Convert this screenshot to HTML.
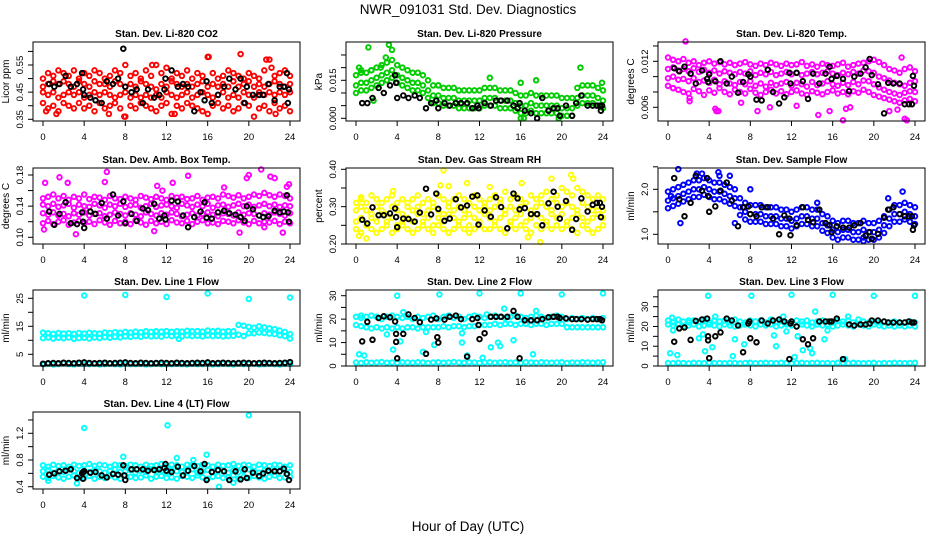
<!DOCTYPE html>
<html><head><meta charset="utf-8"><style>
html,body{margin:0;padding:0;background:#fff;}
svg{display:block;font-family:"Liberation Sans",sans-serif;}
</style></head><body>
<svg id="chart" width="936" height="540" viewBox="0 0 936 540" xmlns="http://www.w3.org/2000/svg">
<text x="468" y="14" font-size="13.5" text-anchor="middle">NWR_091031  Std. Dev. Diagnostics</text>
<text x="468" y="531" font-size="13.5" text-anchor="middle">Hour of Day (UTC)</text>
</svg>
<script>
const hours=[0,0.5,1,1.5,2,2.5,3,3.5,4,4.5,5,5.5,6,6.5,7,7.5,8,8.5,9,9.5,10,10.5,11,11.5,12,12.5,13,13.5,14,14.5,15,15.5,16,16.5,17,17.5,18,18.5,19,19.5,20,20.5,21,21.5,22,22.5,23,23.5,24];
const xTicks=[0,4,8,12,16,20,24];
const blackHoursA=[0.6,1.1,1.6,2.2,2.7,3.3,3.8,3.9,4.0,4.6,5.1,5.7,6.2,6.8,7.3,7.8,8.0,8.6,9.1,9.7,10.2,10.8,11.3,11.8,11.9,12.5,13.1,13.6,14.1,14.7,15.3,15.7,15.9,16.4,17.0,17.6,18.1,18.7,19.2,19.6,19.8,20.4,21.0,21.4,21.9,22.5,23.0,23.4,23.7,23.8,23.9];
const blackHoursB=[0.6,1.1,1.6,2.2,2.7,3.3,3.8,3.9,3.9,4.0,4.6,5.1,5.7,6.2,6.8,7.3,7.8,7.9,8.0,8.6,9.1,9.7,10.2,10.8,11.3,11.8,11.9,12.0,12.5,13.1,13.6,14.1,14.7,15.3,15.7,15.9,16.4,17.0,17.6,18.1,18.7,19.2,19.6,19.8,20.4,21.0,21.4,21.9,22.5,23.0,23.4,23.7,23.9];

const co2Band1=[0.50,0.52,0.51,0.53,0.52,0.51,0.53,0.50,0.52,0.51,0.53,0.52,0.50,0.51,0.53,0.52,0.55,0.51,0.52,0.50,0.53,0.51,0.55,0.52,0.54,0.50,0.52,0.51,0.53,0.50,0.52,0.51,0.58,0.52,0.50,0.51,0.53,0.52,0.51,0.50,0.52,0.51,0.50,0.53,0.57,0.51,0.52,0.53,0.51];
const co2Band2=[0.47,0.48,0.49,0.48,0.49,0.48,0.47,0.49,0.48,0.47,0.49,0.48,0.48,0.47,0.49,0.48,0.47,0.48,0.47,0.49,0.48,0.47,0.46,0.48,0.47,0.49,0.48,0.47,0.48,0.47,0.48,0.49,0.47,0.48,0.47,0.48,0.47,0.49,0.47,0.48,0.49,0.47,0.48,0.47,0.48,0.49,0.48,0.47,0.48];
const co2Band3=[0.45,0.44,0.45,0.43,0.44,0.45,0.44,0.45,0.43,0.44,0.45,0.44,0.45,0.44,0.43,0.44,0.45,0.43,0.44,0.43,0.44,0.43,0.44,0.43,0.45,0.44,0.43,0.44,0.45,0.43,0.44,0.45,0.44,0.43,0.44,0.45,0.43,0.44,0.43,0.45,0.44,0.43,0.45,0.44,0.45,0.44,0.45,0.44,0.45];
const co2Band4=[0.41,0.39,0.40,0.38,0.41,0.40,0.39,0.41,0.39,0.40,0.38,0.41,0.39,0.40,0.41,0.39,0.36,0.40,0.39,0.41,0.40,0.39,0.38,0.40,0.41,0.37,0.40,0.39,0.41,0.40,0.39,0.38,0.37,0.40,0.41,0.39,0.40,0.38,0.39,0.41,0.40,0.36,0.39,0.40,0.38,0.41,0.39,0.40,0.38];
const co2OutX=[0.3,1.3,6.4,7.9,10.6,12.8,16.1,19.2,21.7,22.2,22.6];
const co2OutY=[0.38,0.37,0.37,0.36,0.55,0.37,0.58,0.59,0.57,0.54,0.37];
const co2Black=[0.48,0.47,0.48,0.51,0.47,0.48,0.52,0.46,0.44,0.43,0.42,0.41,0.49,0.48,0.50,0.61,0.47,0.45,0.46,0.41,0.46,0.43,0.44,0.46,0.50,0.53,0.47,0.48,0.47,0.38,0.45,0.42,0.49,0.41,0.44,0.47,0.50,0.46,0.50,0.41,0.47,0.44,0.44,0.44,0.48,0.42,0.47,0.47,0.52,0.41,0.46];
const co2Ticks=[0.35,0.40,0.45,0.50,0.55,0.60];
const co2Labels=["0.35","","0.45","","0.55",""];

const presBand1=[0.017,0.018,0.018,0.019,0.020,0.021,0.022,0.023,0.021,0.020,0.019,0.018,0.018,0.017,0.015,0.013,0.013,0.012,0.012,0.012,0.011,0.011,0.011,0.011,0.011,0.012,0.012,0.012,0.011,0.011,0.011,0.010,0.009,0.009,0.010,0.009,0.009,0.009,0.009,0.009,0.008,0.008,0.008,0.012,0.013,0.013,0.013,0.012,0.011];
const presBand2=[0.013,0.014,0.014,0.015,0.016,0.017,0.018,0.019,0.017,0.016,0.015,0.014,0.014,0.013,0.011,0.009,0.009,0.008,0.008,0.008,0.007,0.007,0.007,0.007,0.007,0.008,0.008,0.008,0.007,0.007,0.007,0.006,0.005,0.005,0.006,0.005,0.005,0.005,0.005,0.005,0.004,0.004,0.004,0.008,0.009,0.009,0.009,0.008,0.007];
const presBand3=[0.010,0.011,0.011,0.012,0.013,0.014,0.015,0.016,0.014,0.013,0.012,0.011,0.011,0.010,0.008,0.006,0.006,0.005,0.005,0.005,0.004,0.004,0.004,0.004,0.004,0.005,0.005,0.005,0.004,0.004,0.004,0.003,0.002,0.002,0.003,0.002,0.002,0.002,0.002,0.002,0.001,0.001,0.001,0.005,0.006,0.006,0.006,0.005,0.004];
const presOutX=[0.5,1.2,1.5,2.4,3.2,3.5,1.7,8.0,13.0,16.0,17.5,21.8,23.9,16.0,16.3,19.7,0.3,2.9];
const presOutY=[0.019,0.028,0.019,0.020,0.029,0.027,0.007,0.013,0.016,0.014,0.015,0.020,0.014,0.000,0.000,0.000,0.020,0.024];
const presBlack=[0.006,0.006,0.008,0.012,0.010,0.013,0.017,0.014,0.008,0.009,0.008,0.009,0.008,0.004,0.006,0.007,0.004,0.006,0.005,0.006,0.006,0.006,0.004,0.005,0.004,0.006,0.005,0.007,0.007,0.007,0.005,0.004,0.006,0.003,0.002,0.000,0.008,0.003,0.004,0.004,0.001,0.005,0.001,0.006,0.009,0.005,0.005,0.005,0.005,0.003,0.005];
const presTicks=[0,0.005,0.010,0.015,0.020,0.025];
const presLabels=["0.000","","","0.015","",""];

const ltBand1=[0.0125,0.0122,0.0120,0.0123,0.0118,0.0120,0.0115,0.0118,0.0120,0.0117,0.0119,0.0116,0.0118,0.0115,0.0117,0.0119,0.0116,0.0114,0.0117,0.0115,0.0118,0.0116,0.0114,0.0117,0.0115,0.0116,0.0119,0.0114,0.0116,0.0113,0.0117,0.0115,0.0114,0.0116,0.0118,0.0113,0.0115,0.0117,0.0118,0.0120,0.0122,0.0119,0.0115,0.0110,0.0108,0.0105,0.0110,0.0112,0.0107];
const ltBand2=[0.0110,0.0112,0.0108,0.0110,0.0107,0.0111,0.0106,0.0109,0.0105,0.0108,0.0104,0.0107,0.0105,0.0103,0.0106,0.0104,0.0107,0.0102,0.0105,0.0103,0.0106,0.0102,0.0104,0.0106,0.0103,0.0105,0.0102,0.0104,0.0106,0.0103,0.0105,0.0107,0.0104,0.0102,0.0105,0.0103,0.0106,0.0104,0.0108,0.0107,0.0105,0.0100,0.0098,0.0095,0.0092,0.0090,0.0088,0.0092,0.0094];
const ltBand3=[0.0098,0.0100,0.0096,0.0097,0.0094,0.0098,0.0093,0.0095,0.0092,0.0096,0.0090,0.0094,0.0091,0.0089,0.0093,0.0090,0.0094,0.0088,0.0091,0.0087,0.0092,0.0089,0.0091,0.0093,0.0088,0.0092,0.0090,0.0087,0.0093,0.0089,0.0091,0.0094,0.0090,0.0088,0.0092,0.0089,0.0093,0.0090,0.0095,0.0094,0.0090,0.0086,0.0083,0.0080,0.0078,0.0076,0.0079,0.0081,0.0080];
const ltBand4=[0.0088,0.0085,0.0083,0.0080,0.0078,0.0084,0.0081,0.0076,0.0082,0.0079,0.0085,0.0080,0.0077,0.0083,0.0080,0.0078,0.0084,0.0079,0.0076,0.0080,0.0083,0.0078,0.0081,0.0077,0.0080,0.0082,0.0078,0.0076,0.0081,0.0079,0.0077,0.0080,0.0082,0.0078,0.0080,0.0077,0.0081,0.0079,0.0083,0.0080,0.0076,0.0074,0.0072,0.0070,0.0068,0.0066,0.0069,0.0071,0.0068];
const ltOutX=[0.5,1.7,2.1,2.1,4.6,4.7,4.9,7.1,8.7,9.9,12.5,14.6,15.7,17.0,17.3,17.7,22.7,23.0,23.2,21.5,22.3];
const ltOutY=[0.0085,0.0146,0.0072,0.0068,0.0058,0.0055,0.0055,0.0066,0.0055,0.0060,0.0062,0.0050,0.0055,0.0043,0.0058,0.0060,0.0125,0.0045,0.0043,0.0055,0.0057];
const ltBlack=[0.0111,0.0107,0.0113,0.0104,0.0091,0.0108,0.0097,0.0093,0.0103,0.0094,0.0120,0.0091,0.0100,0.0079,0.0093,0.0103,0.0100,0.0070,0.0069,0.0109,0.0080,0.0065,0.0073,0.0105,0.0091,0.0105,0.0094,0.0071,0.0104,0.0091,0.0104,0.0113,0.0097,0.0101,0.0097,0.0081,0.0100,0.0104,0.0112,0.0123,0.0102,0.0090,0.0052,0.0092,0.0091,0.0091,0.0064,0.0064,0.0064,0.0101,0.0088];
const ltTicks=[0.006,0.008,0.010,0.012,0.014];
const ltLabels=["0.006","","","0.012",""];

const abBand1=[0.150,0.152,0.155,0.150,0.153,0.148,0.152,0.150,0.155,0.149,0.152,0.151,0.148,0.153,0.150,0.149,0.152,0.150,0.148,0.153,0.151,0.149,0.152,0.150,0.148,0.153,0.151,0.152,0.149,0.150,0.153,0.148,0.151,0.152,0.150,0.155,0.153,0.151,0.154,0.150,0.152,0.155,0.153,0.157,0.154,0.152,0.155,0.153,0.150];
const abBand2=[0.142,0.140,0.143,0.139,0.141,0.143,0.138,0.142,0.140,0.139,0.143,0.141,0.138,0.142,0.140,0.143,0.139,0.141,0.142,0.138,0.140,0.143,0.139,0.141,0.142,0.140,0.138,0.143,0.141,0.139,0.142,0.140,0.143,0.138,0.141,0.142,0.139,0.141,0.143,0.140,0.142,0.139,0.141,0.143,0.140,0.142,0.139,0.141,0.140];
const abBand3=[0.131,0.129,0.132,0.128,0.130,0.127,0.131,0.129,0.132,0.128,0.130,0.131,0.127,0.129,0.132,0.130,0.128,0.131,0.129,0.127,0.132,0.130,0.128,0.131,0.129,0.132,0.130,0.127,0.129,0.131,0.128,0.130,0.132,0.129,0.127,0.131,0.130,0.128,0.132,0.129,0.131,0.130,0.128,0.131,0.129,0.132,0.130,0.128,0.131];
const abBand4=[0.118,0.121,0.117,0.120,0.122,0.116,0.119,0.121,0.118,0.120,0.117,0.122,0.119,0.116,0.121,0.118,0.120,0.117,0.122,0.119,0.116,0.121,0.118,0.120,0.117,0.122,0.119,0.118,0.121,0.117,0.120,0.122,0.118,0.119,0.117,0.121,0.120,0.118,0.122,0.119,0.117,0.121,0.118,0.120,0.119,0.121,0.117,0.120,0.118];
const abOutX=[0.1,0.2,1.6,2.4,3.2,6.0,6.2,11.1,11.6,12.6,14.1,17.6,19.1,19.8,20.0,21.2,22.1,22.5,23.3,23.7,23.9,10.8,21.5];
const abOutY=[0.110,0.170,0.177,0.170,0.104,0.171,0.184,0.166,0.160,0.170,0.179,0.164,0.106,0.176,0.180,0.187,0.178,0.176,0.106,0.165,0.168,0.108,0.113];
const abBlack=[0.133,0.116,0.130,0.145,0.118,0.117,0.132,0.120,0.112,0.133,0.130,0.144,0.124,0.155,0.128,0.146,0.118,0.130,0.121,0.137,0.135,0.143,0.124,0.128,0.123,0.147,0.146,0.128,0.113,0.126,0.133,0.145,0.125,0.124,0.132,0.134,0.131,0.129,0.126,0.121,0.140,0.136,0.128,0.126,0.127,0.134,0.132,0.133,0.154,0.132,0.120];
const abTicks=[0.10,0.12,0.14,0.16,0.18];
const abLabels=["0.10","","0.14","","0.18"];

const rhBand1=[0.31,0.32,0.31,0.33,0.32,0.31,0.32,0.33,0.31,0.32,0.31,0.32,0.33,0.31,0.32,0.31,0.33,0.32,0.31,0.32,0.33,0.32,0.31,0.33,0.32,0.31,0.32,0.33,0.32,0.34,0.32,0.33,0.32,0.31,0.33,0.32,0.33,0.34,0.32,0.33,0.35,0.34,0.33,0.35,0.34,0.33,0.32,0.33,0.32];
const rhBand2=[0.29,0.30,0.29,0.28,0.30,0.29,0.28,0.30,0.29,0.28,0.30,0.29,0.30,0.28,0.29,0.30,0.29,0.28,0.30,0.29,0.30,0.29,0.28,0.30,0.29,0.30,0.29,0.30,0.31,0.29,0.30,0.29,0.30,0.31,0.29,0.30,0.31,0.30,0.29,0.31,0.30,0.31,0.30,0.29,0.31,0.30,0.29,0.30,0.29];
const rhBand3=[0.26,0.27,0.25,0.27,0.26,0.28,0.26,0.27,0.25,0.26,0.27,0.26,0.28,0.26,0.27,0.25,0.27,0.26,0.28,0.27,0.26,0.27,0.25,0.27,0.26,0.28,0.27,0.26,0.27,0.28,0.26,0.27,0.28,0.26,0.27,0.28,0.27,0.26,0.28,0.27,0.28,0.26,0.27,0.28,0.27,0.26,0.27,0.28,0.27];
const rhBand4=[0.24,0.23,0.25,0.24,0.23,0.24,0.25,0.23,0.24,0.25,0.24,0.23,0.24,0.25,0.24,0.23,0.25,0.24,0.23,0.24,0.25,0.24,0.23,0.24,0.25,0.24,0.24,0.25,0.24,0.23,0.25,0.24,0.25,0.24,0.23,0.25,0.24,0.25,0.24,0.25,0.24,0.25,0.24,0.23,0.25,0.24,0.23,0.24,0.25];
const rhOutX=[8.5,17.9,20.9,21.1,10.8,16.1,8.2,9.0,19.0,13.0,0.3,1.0,16.7,0.5,3.6];
const rhOutY=[0.397,0.205,0.385,0.375,0.363,0.363,0.357,0.355,0.375,0.353,0.222,0.215,0.218,0.325,0.342];
const rhBlack=[0.265,0.255,0.298,0.277,0.277,0.282,0.295,0.272,0.245,0.268,0.267,0.260,0.284,0.348,0.279,0.335,0.294,0.262,0.268,0.320,0.298,0.303,0.327,0.330,0.252,0.290,0.273,0.325,0.299,0.242,0.335,0.322,0.293,0.296,0.280,0.280,0.250,0.309,0.340,0.300,0.268,0.315,0.238,0.267,0.322,0.287,0.305,0.310,0.310,0.272,0.300];
const rhTicks=[0.20,0.25,0.30,0.35,0.40];
const rhLabels=["0.20","","0.30","","0.40"];

const sfBand1=[1.95,2.00,2.05,2.10,2.15,2.20,2.20,2.25,2.20,2.15,2.15,2.10,2.05,2.00,1.80,1.70,1.65,1.65,1.65,1.60,1.60,1.60,1.55,1.55,1.50,1.55,1.60,1.60,1.55,1.55,1.45,1.40,1.30,1.25,1.30,1.30,1.25,1.25,1.30,1.25,1.25,1.30,1.40,1.55,1.65,1.65,1.70,1.65,1.60];
const sfBand2=[1.75,1.80,1.85,1.90,1.95,2.00,2.00,2.05,2.00,1.95,1.95,1.90,1.85,1.80,1.60,1.50,1.45,1.45,1.45,1.40,1.40,1.40,1.35,1.35,1.30,1.35,1.40,1.40,1.35,1.35,1.25,1.20,1.10,1.05,1.10,1.10,1.05,1.05,1.10,1.05,1.05,1.10,1.20,1.35,1.45,1.45,1.50,1.45,1.40];
const sfBand3=[1.58,1.63,1.68,1.73,1.78,1.83,1.83,1.88,1.83,1.78,1.78,1.73,1.68,1.63,1.43,1.33,1.28,1.28,1.28,1.23,1.23,1.23,1.18,1.18,1.13,1.18,1.23,1.23,1.18,1.18,1.08,1.03,0.93,0.88,0.93,0.93,0.88,0.88,0.93,0.88,0.88,0.93,1.03,1.18,1.28,1.28,1.33,1.28,1.23];
const sfOutX=[1.0,1.2,2.8,3.3,4.9,5.0,6.0,6.5,8.0,14.5,22.8,21.4,19.0,0.3];
const sfOutY=[2.45,1.25,2.35,2.35,2.38,2.30,2.30,1.25,2.00,1.70,1.95,1.80,0.85,1.85];
const sfBlack=[2.25,1.78,1.40,1.70,2.30,1.97,2.25,1.85,1.50,1.62,1.97,2.15,1.75,1.18,1.60,1.62,1.45,1.40,1.60,1.60,1.35,1.00,1.42,1.35,0.98,1.20,1.60,1.32,1.27,1.55,1.25,1.20,1.05,1.18,1.15,1.15,1.20,1.25,0.97,1.05,0.90,1.01,1.37,1.55,1.60,1.45,1.40,1.40,1.40,1.10,1.20];
const sfTicks=[1.0,1.5,2.0,2.5];
const sfLabels=["1.0","","2.0",""];

const l1Band1=[12.8,12.5,12.3,12.6,12.4,12.5,12.3,12.6,12.4,12.7,12.5,12.4,12.8,12.6,12.9,12.7,13.0,12.8,13.1,12.9,13.2,13.0,13.2,13.1,13.3,13.0,13.2,13.1,13.4,13.2,13.3,13.1,13.5,13.2,13.4,13.1,13.3,13.2,15.5,15.2,14.8,14.5,15.0,14.6,14.3,14.0,13.5,13.0,12.2];
const l1Band2=[10.8,11.0,10.6,10.9,10.7,11.0,10.5,10.8,10.9,10.6,11.0,10.8,11.1,10.9,11.2,11.0,11.4,11.2,11.5,11.3,11.6,11.4,11.5,11.3,11.7,11.5,11.6,11.4,11.7,11.5,11.6,11.4,11.7,11.5,11.6,11.4,11.5,11.6,12.0,11.5,12.5,12.5,12.8,12.6,12.4,12.2,11.8,11.5,10.6];
const l1Band3=[1.5,1.6,1.4,1.5,1.7,1.5,1.4,1.6,1.5,1.5,1.6,1.4,1.5,1.6,1.5,1.4,1.6,1.5,1.5,1.6,1.4,1.5,1.6,1.5,1.4,1.5,1.6,1.5,1.4,1.6,1.5,1.5,1.6,1.4,1.5,1.6,1.5,1.4,1.6,1.5,1.5,1.6,1.4,1.5,1.6,1.5,1.4,1.6,1.5];
const l1OutX=[4,8,12,16,20,24,0.1,13.2];
const l1OutY=[26.0,26.2,25.5,26.7,24.8,25.3,1.5,10.5];
const l1Black=[1.6,1.8,1.9,1.8,2.0,1.9,1.8,2.0,2.1,1.9,1.8,1.9,2.0,1.8,1.9,2.0,2.1,1.9,1.8,2.0,1.9,1.8,1.9,2.0,1.9,1.8,2.0,1.9,1.8,1.9,2.0,1.9,2.1,1.8,1.9,2.0,1.9,1.8,1.9,2.0,1.9,1.8,1.9,2.0,1.9,1.8,1.9,2.0,2.2];
const l1Ticks=[5,10,15,20,25];
const l1Labels=["5","","15","","25"];

const l2Band1=[21,20.5,21,21.5,21,20,21,21.5,21,20.5,21,20,21,20.5,21,21.5,20,21,21.5,20.5,21,20,21,21.5,21,20.5,21,21.5,21,20.5,21,21.5,21,20.5,21,21.5,21,20.5,21,21.5,21,20,20.5,20,20.5,20,20.5,20,20.5];
const l2Band2=[17.5,17,16.5,16,16.5,16,16.5,16,16.5,16,16.5,16.5,16,16.5,16.5,16.5,16.5,17,16.5,17,17,16.5,17,17,17.5,17.5,17.5,18,17.5,18,18,17.5,18,18,17.5,18,18,17.5,18,18,18,16.5,16.5,16.5,16.5,16.5,16.5,16.5,16.5];
const l2Band3=[1.5,1.3,1.6,1.4,1.5,1.7,1.4,1.5,1.3,1.6,1.5,1.4,1.6,1.5,1.3,1.5,1.6,1.4,1.5,1.7,1.5,1.4,1.6,1.5,1.3,1.5,1.6,1.4,1.5,1.6,1.4,1.5,1.3,1.6,1.5,1.4,1.6,1.5,1.4,1.5,1.6,1.3,1.5,1.4,1.6,1.5,1.4,1.5,1.6];
const l2OutX=[0.3,0.8,3.0,3.6,4.3,4.6,6.5,6.8,7.6,8.1,10.3,10.3,10.8,12.0,12.3,12.7,13.1,13.8,14.0,14.4,15.3,16.0,17.2,17.5,20.0,24.0,4.0,0.5];
const l2OutY=[5,4.5,13.5,7,10.5,23,6,14.5,9,30.5,10,14,4.5,31,3.5,22,8,10,8.5,24.5,11,31,5,23.5,30.5,31,30,21.5];
const l2Black=[10.5,18.8,11.2,20.5,21.2,20.8,19,13.7,10.3,3.3,13.7,22,20.5,18.7,5.2,19.8,20.3,12.3,10,19.8,21,21.5,20,4,20,20.5,17.5,11.5,14,21,21,21,21,23.5,21,3.3,19.5,19.5,19.5,20,20.8,21,21,20.5,20.3,20,20,20,19.8,20,20,20,19.5];
const l2Ticks=[0,5,10,15,20,25,30];
const l2Labels=["0","","10","","20","","30"];

const l3Band1=[23,22,23.5,22.5,22,23,22.5,23.5,22,23,22.5,23,22,23.5,22.5,22,23,22.5,23,22,23.5,22.5,23,22,22.5,23,22.5,23,22,22.5,23,22.5,22,23,22.5,23,22,23.5,22.5,22,22.5,22,22.5,22,22.5,22,22,22.5,22];
const l3Band2=[21,20.5,21,20,20.5,21,20,20.5,21,20.5,20,21,20.5,20,20.5,21,20.5,20,21,20.5,21,20,20.5,21,20.5,20,21,20.5,20,21,20.5,21,20,20.5,21,20.5,20,21,20.5,20,21,20.5,20,20.5,20,20.5,20,20.5,20];
const l3Band3=[1.5,1.4,1.6,1.5,1.3,1.6,1.5,1.4,1.6,1.5,1.5,1.4,1.6,1.5,1.3,1.5,1.6,1.4,1.5,1.6,1.5,1.4,1.6,1.5,1.3,1.5,1.6,1.4,1.5,1.6,1.4,1.5,1.3,1.6,1.5,1.4,1.6,1.5,1.4,1.5,1.6,1.3,1.5,1.4,1.6,1.5,1.4,1.5,1.6];
const l3OutX=[0.2,0.4,0.5,0.9,2.0,3.0,3.4,3.6,3.9,4.3,4.6,6.3,6.5,7.4,8.1,10.3,10.5,11.2,11.5,12.0,12.3,12.6,13.1,13.8,14.0,14.3,15.2,15.5,16.0,17.2,17.5,20.0,24.0];
const l3OutY=[6.5,24.5,18,5.5,23,14,16,7.5,35.5,9.5,25,5,13.5,11,35.5,15.5,10,25,17.5,36,4.5,15,8,9,6.5,27.5,13.5,18,36,3.5,25,35.5,35.5];
const l3Black=[12.3,19,19.5,13.2,22.8,23.5,24,15,13,4,15,17,24,23,20.5,7,21.5,22.5,14,12,23,21.5,23,23.5,22.5,3.5,21.5,22.5,20,13.5,11,14,22.5,22.5,22.5,22.5,24,3.5,21,20.5,21,21,21.5,23,23,22.5,22,22,22,22,22.5,22,22];
const l3Ticks=[0,5,10,15,20,25,30,35];
const l3Labels=["0","","10","","20","","30",""];

const l4Band1=[0.72,0.70,0.73,0.71,0.72,0.70,0.73,0.71,0.72,0.74,0.71,0.73,0.72,0.70,0.73,0.72,0.71,0.73,0.72,0.70,0.73,0.71,0.72,0.74,0.71,0.73,0.72,0.70,0.73,0.72,0.71,0.73,0.72,0.70,0.73,0.71,0.72,0.74,0.71,0.73,0.72,0.70,0.73,0.72,0.71,0.73,0.72,0.70,0.72];
const l4Band2=[0.63,0.65,0.61,0.64,0.62,0.66,0.63,0.61,0.64,0.62,0.65,0.63,0.61,0.64,0.66,0.62,0.63,0.65,0.61,0.64,0.62,0.66,0.63,0.64,0.61,0.65,0.63,0.62,0.64,0.66,0.61,0.63,0.65,0.62,0.64,0.63,0.61,0.65,0.62,0.64,0.66,0.63,0.61,0.64,0.62,0.65,0.63,0.64,0.62];
const l4Band3=[0.55,0.53,0.56,0.54,0.52,0.55,0.57,0.53,0.54,0.56,0.52,0.55,0.53,0.57,0.54,0.52,0.56,0.55,0.53,0.54,0.57,0.52,0.55,0.56,0.53,0.54,0.52,0.56,0.55,0.53,0.57,0.54,0.52,0.55,0.56,0.53,0.54,0.57,0.52,0.55,0.53,0.56,0.54,0.52,0.55,0.57,0.53,0.54,0.55];
const l4OutX=[4.0,12.1,20.0,7.8,15.9,13.0,14.6,0.5,3.3,17.1,18.5];
const l4OutY=[1.28,1.32,1.47,0.85,0.88,0.83,0.80,0.49,0.45,0.40,0.46];
const l4Black=[0.58,0.60,0.63,0.64,0.66,0.53,0.60,0.52,0.62,0.63,0.61,0.62,0.57,0.54,0.59,0.58,0.72,0.57,0.50,0.66,0.66,0.66,0.64,0.65,0.66,0.68,0.74,0.64,0.62,0.70,0.57,0.64,0.71,0.63,0.74,0.50,0.62,0.65,0.63,0.50,0.63,0.51,0.66,0.53,0.61,0.56,0.60,0.64,0.63,0.63,0.67,0.59,0.50];
const l4Ticks=[0.4,0.6,0.8,1.0,1.2,1.4];
const l4Labels=["0.4","","0.8","","1.2",""];

const NS="http://www.w3.org/2000/svg";
const svg=document.getElementById('chart');
function mk(tag,attrs,parent){const e=document.createElementNS(NS,tag);for(const k in attrs)e.setAttribute(k,attrs[k]);(parent||svg).appendChild(e);return e;}

const colLeft=[33,346,658], rowTop=[42,168,290,412], rowBot=[121,244,366,489];
const panels=[
 {id:'co2',title:'Stan. Dev. Li-820 CO2',ylab:'Licor ppm',col:0,row:0,color:'#ff0000',cal:[0.35,119.3,0.55,65],bands:[co2Band1,co2Band2,co2Band3,co2Band4],ox:co2OutX,oy:co2OutY,bh:blackHoursA,by:co2Black,ticks:co2Ticks,labels:co2Labels},
 {id:'pressure',title:'Stan. Dev. Li-820 Pressure',ylab:'kPa',col:1,row:0,color:'#00cc00',cal:[0,118.3,0.015,80.3],bands:[presBand1,presBand2,presBand3],ox:presOutX,oy:presOutY,bh:blackHoursA,by:presBlack,ticks:presTicks,labels:presLabels},
 {id:'li-temp',title:'Stan. Dev. Li-820 Temp.',ylab:'degrees C',col:2,row:0,color:'#ff00ff',cal:[0.006,107.3,0.012,61.3],bands:[ltBand1,ltBand2,ltBand3,ltBand4],ox:ltOutX,oy:ltOutY,bh:blackHoursA,by:ltBlack,ticks:ltTicks,labels:ltLabels},
 {id:'amb-box-temp',title:'Stan. Dev. Amb. Box Temp.',ylab:'degrees C',col:0,row:1,color:'#ff00ff',cal:[0.10,237.3,0.18,175],bands:[abBand1,abBand2,abBand3,abBand4],ox:abOutX,oy:abOutY,bh:blackHoursA,by:abBlack,ticks:abTicks,labels:abLabels},
 {id:'gas-rh',title:'Stan. Dev. Gas Stream RH',ylab:'percent',col:1,row:1,color:'#ffff00',cal:[0.20,244,0.40,169.3],bands:[rhBand1,rhBand2,rhBand3,rhBand4],ox:rhOutX,oy:rhOutY,bh:blackHoursA,by:rhBlack,ticks:rhTicks,labels:rhLabels},
 {id:'sample-flow',title:'Stan. Dev. Sample Flow',ylab:'ml/min',col:2,row:1,color:'#0000ff',cal:[1.0,234.3,2.0,189.3],bands:[sfBand1,sfBand2,sfBand3],ox:sfOutX,oy:sfOutY,bh:blackHoursA,by:sfBlack,ticks:sfTicks,labels:sfLabels},
 {id:'line1-flow',title:'Stan. Dev. Line 1 Flow',ylab:'ml/min',col:0,row:2,color:'#00ffff',cal:[5,354.3,25,298.3],bands:[l1Band1,l1Band2,l1Band3],ox:l1OutX,oy:l1OutY,bh:hours,by:l1Black,ticks:l1Ticks,labels:l1Labels},
 {id:'line2-flow',title:'Stan. Dev. Line 2 Flow',ylab:'ml/min',col:1,row:2,color:'#00ffff',cal:[0,366,30,295.7],bands:[l2Band1,l2Band2,l2Band3],ox:l2OutX,oy:l2OutY,bh:blackHoursB,by:l2Black,ticks:l2Ticks,labels:l2Labels},
 {id:'line3-flow',title:'Stan. Dev. Line 3 Flow',ylab:'ml/min',col:2,row:2,color:'#00ffff',cal:[0,366,30,306.7],bands:[l3Band1,l3Band2,l3Band3],ox:l3OutX,oy:l3OutY,bh:blackHoursB,by:l3Black,ticks:l3Ticks,labels:l3Labels},
 {id:'line4-flow',title:'Stan. Dev. Line 4 (LT) Flow',ylab:'ml/min',col:0,row:3,color:'#00ffff',cal:[0.4,486.7,1.2,433.3],bands:[l4Band1,l4Band2,l4Band3],ox:l4OutX,oy:l4OutY,bh:blackHoursB,by:l4Black,ticks:l4Ticks,labels:l4Labels}
];

const R=2.3, SW=1.9;
panels.forEach(p=>{
  const L=colLeft[p.col], W=267, T=rowTop[p.row], B=rowBot[p.row];
  const x0=L+10, xw=247;
  const xs=v=>x0+v/24*xw;
  const ys=v=>p.cal[1]+(v-p.cal[0])*(p.cal[3]-p.cal[1])/(p.cal[2]-p.cal[0]);
  const g=mk('g',{});
  
  
  const t=mk('text',{x:L+W/2,y:T-5,'font-size':'10','font-weight':'bold','text-anchor':'middle'},g);
  t.textContent=p.title;
  
  
  const pts=mk('g',{fill:'none','stroke-width':SW},g);
  
  
  p.bands.forEach(arr=>{
    for(let i=0;i<Math.min(arr.length,hours.length);i++){
      const c=mk('circle',{cx:xs(hours[i]).toFixed(1),cy:ys(arr[i]).toFixed(1),r:R,stroke:p.color},pts);
      
      
    }
  });
  for(let i=0;i<Math.min(p.ox.length,p.oy.length);i++){
    const c=mk('circle',{cx:xs(p.ox[i]).toFixed(1),cy:ys(p.oy[i]).toFixed(1),r:R,stroke:p.color},pts);
    
    
  }
  for(let i=0;i<Math.min(p.bh.length,p.by.length);i++){
    const c=mk('circle',{cx:xs(p.bh[i]).toFixed(1),cy:ys(p.by[i]).toFixed(1),r:R,stroke:'#000'},pts);
    
    
  }
  const box=mk('rect',{x:L,y:T,width:W,height:B-T,fill:'none',stroke:'#000','stroke-width':1},g);
  
  
  xTicks.forEach(v=>{
    mk('line',{x1:xs(v),x2:xs(v),y1:B,y2:B+5,stroke:'#000'},g);
    const tl=mk('text',{x:xs(v),y:B+19,'font-size':'9.5','text-anchor':'middle'},g);
    tl.textContent=String(v);
    
    
  });
  p.ticks.forEach((v,i)=>{
    const y=ys(v);
    mk('line',{x1:L-5,x2:L,y1:y,y2:y,stroke:'#000'},g);
    if(p.labels[i]){
      const tl=mk('text',{x:L-10,y:y,'font-size':'9.5','text-anchor':'middle',transform:`rotate(-90 ${L-10} ${y})`},g);
      tl.textContent=p.labels[i];
      
      
    }
  });
  const yl=mk('text',{x:L-24,y:(T+B)/2,'font-size':'10','text-anchor':'middle',transform:`rotate(-90 ${L-24} ${(T+B)/2})`},g);
  yl.textContent=p.ylab;
  
  
});
</script>
</body></html>
